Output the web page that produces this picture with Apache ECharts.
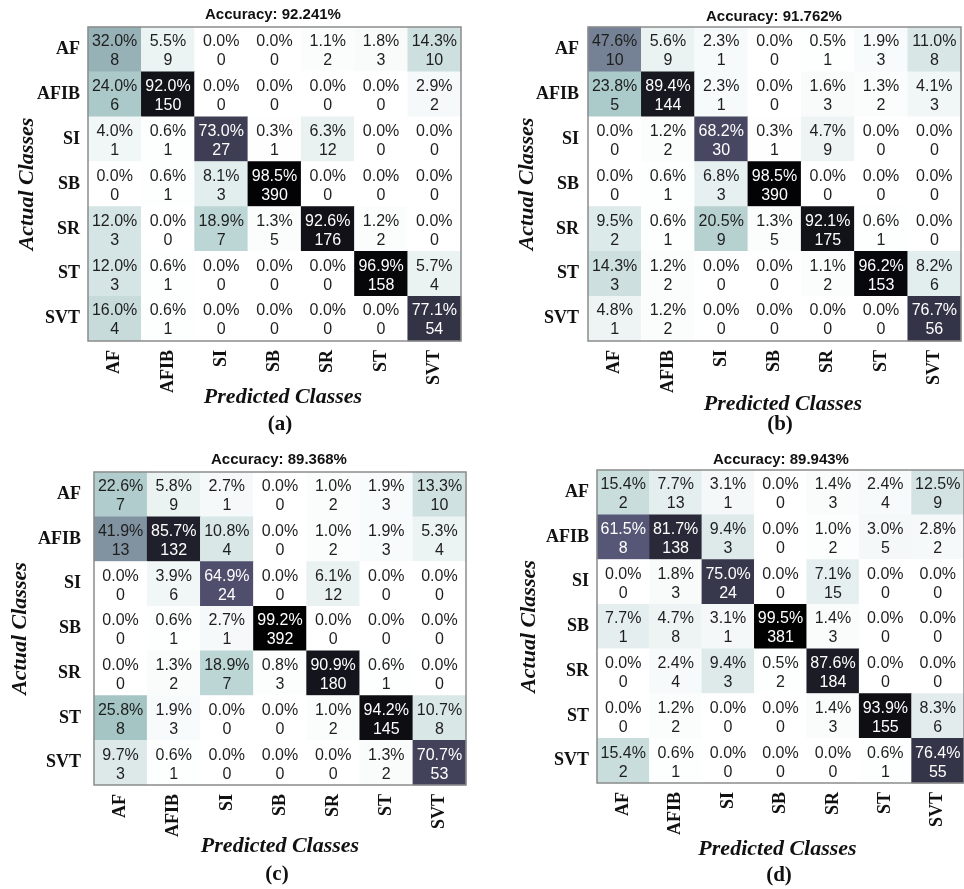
<!DOCTYPE html>
<html>
<head>
<meta charset="UTF-8">
<title>Confusion matrices</title>
<script src="https://cdn.jsdelivr.net/npm/echarts@6/dist/echarts.min.js"></script>
<style>
  html, body { margin: 0; padding: 0; background: #fff; }
  #main { width: 964px; height: 889px; }
</style>
</head>
<body>
<div id="main"></div>
<script>
// class names (rows = actual, columns = predicted)
var classes = ['AF', 'AFIB', 'SI', 'SB', 'SR', 'ST', 'SVT'];

// counts read from the four matrices
var cmA = [
  [8, 9, 0, 0, 2, 3, 10],
  [6, 150, 0, 0, 0, 0, 2],
  [1, 1, 27, 1, 12, 0, 0],
  [0, 1, 3, 390, 0, 0, 0],
  [3, 0, 7, 5, 176, 2, 0],
  [3, 1, 0, 0, 0, 158, 4],
  [4, 1, 0, 0, 0, 0, 54]
];
var cmB = [
  [10, 9, 1, 0, 1, 3, 8],
  [5, 144, 1, 0, 3, 2, 3],
  [0, 2, 30, 1, 9, 0, 0],
  [0, 1, 3, 390, 0, 0, 0],
  [2, 1, 9, 5, 175, 1, 0],
  [3, 2, 0, 0, 2, 153, 6],
  [1, 2, 0, 0, 0, 0, 56]
];
var cmC = [
  [7, 9, 1, 0, 2, 3, 10],
  [13, 132, 4, 0, 2, 3, 4],
  [0, 6, 24, 0, 12, 0, 0],
  [0, 1, 1, 392, 0, 0, 0],
  [0, 2, 7, 3, 180, 1, 0],
  [8, 3, 0, 0, 2, 145, 8],
  [3, 1, 0, 0, 0, 2, 53]
];
var cmD = [
  [2, 13, 1, 0, 3, 4, 9],
  [8, 138, 3, 0, 2, 5, 2],
  [0, 3, 24, 0, 15, 0, 0],
  [1, 8, 1, 381, 3, 0, 0],
  [0, 4, 3, 2, 184, 0, 0],
  [0, 2, 0, 0, 3, 155, 6],
  [2, 1, 0, 0, 0, 1, 55]
];
var matrices = [cmA, cmB, cmC, cmD];
var tags = ['(a)', '(b)', '(c)', '(d)'];

// reversed "bone" colormap, stops every 12.5%
var bone = ['#ffffff', '#d3e3e3', '#a7c7c7', '#8ba1ab', '#707a8f',
            '#545474', '#38384d', '#1c1c27', '#000000'];

// where each panel sits
var layout = [
  { left: 88,  top: 27,  width: 373, height: 314, titleX: 273, titleTop: 7,   tagX: 280, tagTop: 414, xGap: 45, xPad: [0, 0, 0, 17], yGap: 50, yMargin: 8 },
  { left: 588, top: 27,  width: 373, height: 314, titleX: 774, titleTop: 9,   tagX: 780, tagTop: 414, xGap: 52, xPad: [0, 0, 0, 17], yGap: 50, yMargin: 9 },
  { left: 94,  top: 472, width: 372, height: 313, titleX: 279, titleTop: 452, tagX: 277, tagTop: 864, xGap: 50, xPad: [0, 0, 0, 0],  yGap: 63, yMargin: 13 },
  { left: 597, top: 470, width: 374, height: 313, titleX: 781, titleTop: 452, tagX: 779, tagTop: 865, xGap: 55, xPad: [0, 6, 0, 0],  yGap: 57, yMargin: 8 }
];

function buildData(cm) {
  var colSum = classes.map(function (_, c) {
    return cm.reduce(function (s, row) { return s + row[c]; }, 0);
  });
  var data = [];
  cm.forEach(function (row, r) {
    row.forEach(function (n, c) {
      var pct = n / colSum[c] * 100;
      data.push({
        value: [c, r, pct, n],
        label: { color: pct > 50 ? '#ffffff' : '#1e1e1e' }
      });
    });
  });
  return data;
}

function accuracy(cm) {
  var diag = 0, total = 0;
  cm.forEach(function (row, r) {
    row.forEach(function (n, c) {
      total += n;
      if (r === c) diag += n;
    });
  });
  return (diag / total * 100).toFixed(3);
}

var serif = 'Liberation Serif, Times New Roman, serif';
var sans = 'Liberation Sans, Arial, sans-serif';

var grids = [], xAxes = [], yAxes = [], series = [], visualMaps = [], titles = [];

matrices.forEach(function (cm, i) {
  var L = layout[i];
  grids.push({
    left: L.left, top: L.top, width: L.width, height: L.height,
    show: true, z: 10, backgroundColor: 'transparent',
    borderColor: '#8c8c8c', borderWidth: 1.5
  });
  xAxes.push({
    type: 'category', gridIndex: i, data: classes, position: 'bottom',
    axisLine: { show: false }, axisTick: { show: false }, splitLine: { show: false },
    axisLabel: { rotate: 90, margin: 9, fontFamily: serif, fontWeight: 'bold', fontSize: 18, color: '#111' },
    name: 'Predicted Classes', nameLocation: 'middle', nameGap: L.xGap, nameMoveOverlap: false,
    nameTextStyle: { fontFamily: serif, fontStyle: 'italic', fontWeight: 'bold', fontSize: 22, color: '#111', padding: L.xPad }
  });
  yAxes.push({
    type: 'category', gridIndex: i, data: classes, inverse: true,
    axisLine: { show: false }, axisTick: { show: false }, splitLine: { show: false },
    axisLabel: { margin: L.yMargin, fontFamily: serif, fontWeight: 'bold', fontSize: 18, color: '#111' },
    name: 'Actual Classes', nameLocation: 'middle', nameGap: L.yGap, nameRotate: 90, nameMoveOverlap: false,
    nameTextStyle: { fontFamily: serif, fontStyle: 'italic', fontWeight: 'bold', fontSize: 22, color: '#111' }
  });
  visualMaps.push({
    type: 'continuous', show: false, seriesIndex: i, dimension: 2,
    min: 0, max: 100, inRange: { color: bone }
  });
  series.push({
    type: 'heatmap', xAxisIndex: i, yAxisIndex: i,
    data: buildData(cm),
    itemStyle: { borderWidth: 0 },
    emphasis: { disabled: true },
    label: {
      show: true, fontFamily: sans, fontSize: 16, lineHeight: 19, offset: [0, 2],
      formatter: function (p) { return p.value[2].toFixed(1) + '%\n' + p.value[3]; }
    }
  });
  titles.push({
    text: 'Accuracy: ' + accuracy(cm) + '%', left: L.titleX, top: L.titleTop,
    textAlign: 'center', padding: 0,
    textStyle: { fontFamily: sans, fontWeight: 'bold', fontSize: 15, color: '#111' }
  });
  titles.push({
    text: tags[i], left: L.tagX, top: L.tagTop, textAlign: 'center', padding: 0,
    textStyle: { fontFamily: serif, fontWeight: 'bold', fontSize: 21, color: '#111' }
  });
});

var chart = echarts.init(document.getElementById('main'));
chart.setOption({
  animation: false,
  backgroundColor: '#ffffff',
  title: titles,
  grid: grids,
  xAxis: xAxes,
  yAxis: yAxes,
  visualMap: visualMaps,
  series: series
});
</script>
</body>
</html>
